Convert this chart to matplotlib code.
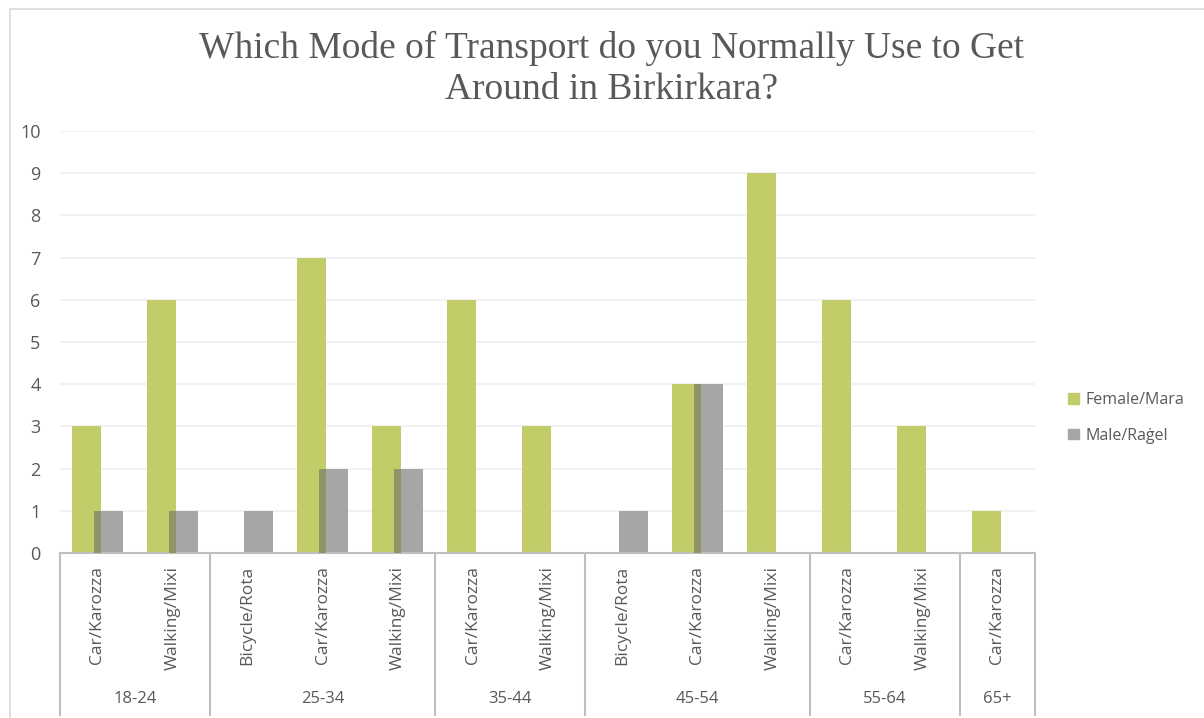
import matplotlib.pyplot as plt
import matplotlib.transforms as mtransforms
from matplotlib.patches import Rectangle, Patch
import numpy as np

# Survey counts by age group and transport mode
groups = ["18-24", "25-34", "35-44", "45-54", "55-64", "65+"]
group_modes = [
    ["Car/Karozza", "Walking/Mixi"],
    ["Bicycle/Rota", "Car/Karozza", "Walking/Mixi"],
    ["Car/Karozza", "Walking/Mixi"],
    ["Bicycle/Rota", "Car/Karozza", "Walking/Mixi"],
    ["Car/Karozza", "Walking/Mixi"],
    ["Car/Karozza"],
]
female = [3, 6, 0, 7, 3, 6, 3, 0, 4, 9, 6, 3, 1]
male = [1, 1, 1, 2, 2, 0, 0, 1, 4, 0, 0, 0, 0]

green = "#C2CD6A"
grey = "#A6A6A6"
overlap = "#8E9468"
text_col = "#595959"

fig = plt.figure(figsize=(12.04, 7.18), dpi=100)
ax = fig.add_axes([60 / 1204, 165 / 718, 975 / 1204, 422 / 718])

labels = [m for g in group_modes for m in g]
x = np.arange(len(labels))
w = 0.39
off = 0.147
f = np.array(female)
m = np.array(male)

ax.bar(x - off, f, w, color=green, zorder=2)
ax.bar(x + off, m, w, color=grey, zorder=2)
# darker band where the two bars overlap
ov_left = x + off - w / 2
ov_right = x - off + w / 2
ax.bar((ov_left + ov_right) / 2, np.minimum(f, m), ov_right - ov_left,
       color=overlap, zorder=3)

ax.set_xlim(-0.5, len(labels) - 0.5)
ax.set_ylim(0, 10)
ax.set_yticks(range(0, 11))
ax.yaxis.grid(True, color="#EFEFEF", linewidth=1.2, zorder=0)
ax.set_axisbelow(True)
for s in ["top", "right", "left"]:
    ax.spines[s].set_visible(False)
ax.spines["bottom"].set_color("#BFBFBF")
ax.spines["bottom"].set_linewidth(1.5)
ax.tick_params(axis="y", length=0, pad=14, labelcolor=text_col)
for t in ax.get_yticklabels():
    t.set_fontfamily("Open Sans")
    t.set_fontsize(13)
ax.tick_params(axis="x", length=0)
ax.set_xticks([])

trans = mtransforms.blended_transform_factory(ax.transData, ax.transAxes)
for xi, lab in zip(x, labels):
    ax.text(xi, -0.03, lab, rotation=90, ha="center", va="top",
            fontsize=12.5, color=text_col, transform=trans, family="Open Sans")

# group labels and dividers
start = 0
bounds = [-0.5]
for g, modes in zip(groups, group_modes):
    n = len(modes)
    center = start + (n - 1) / 2
    ax.text(center, -0.345, g, ha="center", va="center", fontsize=12,
            color=text_col, transform=trans, family="Open Sans")
    start += n
    bounds.append(start - 0.5)
for b in bounds:
    ax.plot([b, b], [0, -0.384], color="#BFBFBF", lw=1.5, transform=trans,
            clip_on=False)

fig.text(0.508, 1 - 31 / 718,
         "Which Mode of Transport do you Normally Use to Get\nAround in Birkirkara?",
         ha="center", va="top", fontsize=27, color=text_col,
         family="Liberation Serif", linespacing=1.25)

handles = [Patch(color=green, label="Female/Mara"), Patch(color=grey, label="Male/Raġel")]
fig.legend(handles=handles, loc="center left", bbox_to_anchor=(1054 / 1204, 1 - 418 / 718),
           frameon=False, handlelength=0.65, handleheight=0.65,
           handletextpad=0.45, labelspacing=1.2, labelcolor=text_col,
           prop={"family": "Open Sans", "size": 11.5})

fig.patches.append(Rectangle((10 / 1204, -0.01), 1.1, 0.997, transform=fig.transFigure,
                             fill=False, edgecolor="#D9D9D9", lw=1.2))

fig.savefig("out.png", dpi=100)
